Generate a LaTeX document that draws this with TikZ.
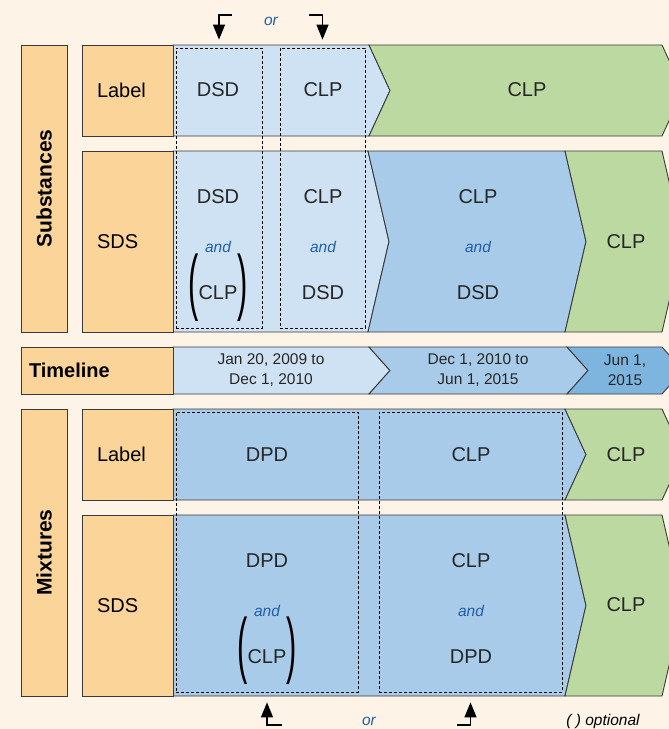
\documentclass[tikz,border=0pt]{standalone}
\usepackage{fontspec}
\setmainfont{Liberation Sans}
\usetikzlibrary{arrows.meta}

\definecolor{cream}{HTML}{FDF3E7}
\definecolor{orangefill}{HTML}{FBD49A}
\definecolor{lightblue}{HTML}{CFE2F3}
\definecolor{midblue}{HTML}{A7CBE8}
\definecolor{darkblue}{HTML}{7DB5DF}
\definecolor{greenfill}{HTML}{BDD9A2}
\definecolor{edge}{HTML}{3A3A3A}
\definecolor{andblue}{HTML}{1F5FA8}

% one band of a row: style, left x, right x, top y, bottom y, notch at left
\newcommand{\band}[6]{%
  \pgfmathsetmacro\ymid{(#4+#5)/2}
  \filldraw[#1] (#2,#4) -- (#3,#4) -- ({#3+21},\ymid) -- (#3,#5) -- (#2,#5) -- ({#2+#6},\ymid) -- cycle;}

\begin{document}
\begin{tikzpicture}[x=1pt,y=-1pt,line width=0.9pt,
  >={Triangle[length=15pt 0 0,width=12pt 0 0]},
  cell/.style={font=\fontsize{20}{24}\selectfont,text=black!85},
  andtxt/.style={font=\fontsize{15.5}{18}\selectfont\itshape,text=andblue}]

% Define block styles
\tikzstyle{sidebox} = [rectangle, draw=edge, fill=orangefill, inner sep=0pt]
\tikzstyle{rowhead} = [sidebox, minimum width=91pt, text width=61pt, inner xsep=15pt, align=left, font=\fontsize{20}{24}\selectfont]
\tikzstyle{dashbox} = [rectangle, draw=black, dash pattern=on 3pt off 2pt, line width=0.8pt, inner sep=0pt, minimum height=280pt]
\tikzstyle{paren} = [font=\fontsize{22}{22}\selectfont, xscale=1.4, yscale=3.3, inner sep=0pt]
\tikzstyle{datetxt} = [align=center, font=\fontsize{15.5}{20}\selectfont, text=black!85]
\tikzstyle{optarrow} = [draw, ->, line width=1.3pt]

\path[use as bounding box, fill=cream] (0,0) rectangle (669,729);
\clip (0,0) rectangle (669,729);

% bands
\band{draw=edge,fill=lightblue}{173}{369}{45}{136}{0}
\band{draw=edge,fill=greenfill}{369}{662}{45}{136}{21}
\band{draw=edge,fill=lightblue}{173}{368}{151}{332}{0}
\band{draw=edge,fill=midblue}{368}{565}{151}{332}{21}
\band{draw=edge,fill=greenfill}{565}{662}{151}{332}{21}
\band{draw=edge,fill=lightblue}{173}{369}{347}{394}{0}
\band{draw=edge,fill=midblue}{369}{567}{347}{394}{21}
\band{draw=edge,fill=darkblue}{567}{662}{347}{394}{21}
\band{draw=edge,fill=midblue}{173}{565}{409}{500}{0}
\band{draw=edge,fill=greenfill}{565}{662}{409}{500}{21}
\band{draw=edge,fill=midblue}{173}{565}{515}{696}{0}
\band{draw=edge,fill=greenfill}{565}{662}{515}{696}{21}

% row heads
\node[sidebox, rotate=90, minimum width=287pt, minimum height=46pt, font=\fontsize{21}{24}\selectfont\bfseries] (subst) at (44,188.5) {Substances};
\node[sidebox, rotate=90, minimum width=287pt, minimum height=46pt, font=\fontsize{21}{24}\selectfont\bfseries] (mixt) at (44,552.5) {Mixtures};
\node[rowhead, minimum height=91pt] (slabel) at (127.5,90.5) {Label};
\node[rowhead, minimum height=181pt] (ssds) at (127.5,241.5) {SDS};
\node[rowhead, minimum height=91pt] (mlabel) at (127.5,454.5) {Label};
\node[rowhead, minimum height=181pt] (msds) at (127.5,605.5) {SDS};
\node[sidebox, minimum width=152pt, minimum height=47pt, text width=136pt, inner xsep=8pt, align=left, font=\fontsize{20}{24}\selectfont\bfseries] (timeline) at (97,370.5) {Timeline};

% substances
\node[cell] (sl1) at (218,90) {DSD};
\node[cell] (sl2) at (323,90) {CLP};
\node[cell] (sl3) at (527,90) {CLP};
\node[cell] (ss1a) at (218,197) {DSD};
\node[andtxt] (ss1b) at (218,247) {and};
\node[cell] (ss1c) at (218,293) {CLP};
\node[paren] (ss1l) at (194,288) {(};
\node[paren] (ss1r) at (243,288) {)};
\node[cell] (ss2a) at (323,197) {CLP};
\node[andtxt] (ss2b) at (323,247) {and};
\node[cell] (ss2c) at (323,293) {DSD};
\node[cell] (ss3a) at (478,197) {CLP};
\node[andtxt] (ss3b) at (478,247) {and};
\node[cell] (ss3c) at (478,293) {DSD};
\node[cell] (ss4) at (626,242) {CLP};

% timeline
\node[datetxt] (t1) at (271,370) {Jan 20, 2009 to\\Dec 1, 2010};
\node[datetxt] (t2) at (478,370) {Dec 1, 2010 to\\Jun 1, 2015};
\node[datetxt] (t3) at (625,370) {Jun 1,\\2015};

% mixtures
\node[cell] (ml1) at (267,455) {DPD};
\node[cell] (ml2) at (471,455) {CLP};
\node[cell] (ml3) at (626,455) {CLP};
\node[cell] (ms1a) at (267,561) {DPD};
\node[andtxt] (ms1b) at (267,611) {and};
\node[cell] (ms1c) at (267,657) {CLP};
\node[paren] (ms1l) at (243,651) {(};
\node[paren] (ms1r) at (292,651) {)};
\node[cell] (ms2a) at (471,561) {CLP};
\node[andtxt] (ms2b) at (471,611) {and};
\node[cell] (ms2c) at (471,657) {DPD};
\node[cell] (ms3) at (626,605) {CLP};

% optional boxes
\node[dashbox, minimum width=86pt] (sopt1) at (219,188) {};
\node[dashbox, minimum width=85pt] (sopt2) at (322.5,188) {};
\node[dashbox, minimum width=182pt] (mopt1) at (267,552) {};
\node[dashbox, minimum width=183pt] (mopt2) at (470.5,552) {};

\coordinate (sarr1) at (232,15);
\coordinate (sarr2) at (309,15);
\coordinate (marr1) at (282,725);
\coordinate (marr2) at (457,725);
\draw[optarrow, shorten >=8pt] (sarr1) -| (sopt1.north);
\draw[optarrow, shorten >=8pt] (sarr2) -| (sopt2.north);
\draw[optarrow, shorten >=10pt] (marr1) -| (mopt1.south);
\draw[optarrow, shorten >=10pt] (marr2) -| (mopt2.south);

\node[andtxt] (sor) at (271,21) {or};
\node[andtxt] (mor) at (369,721) {or};
\node[andtxt, text=black] (optnote) at (603,721) {( ) optional};

\end{tikzpicture}
\end{document}
